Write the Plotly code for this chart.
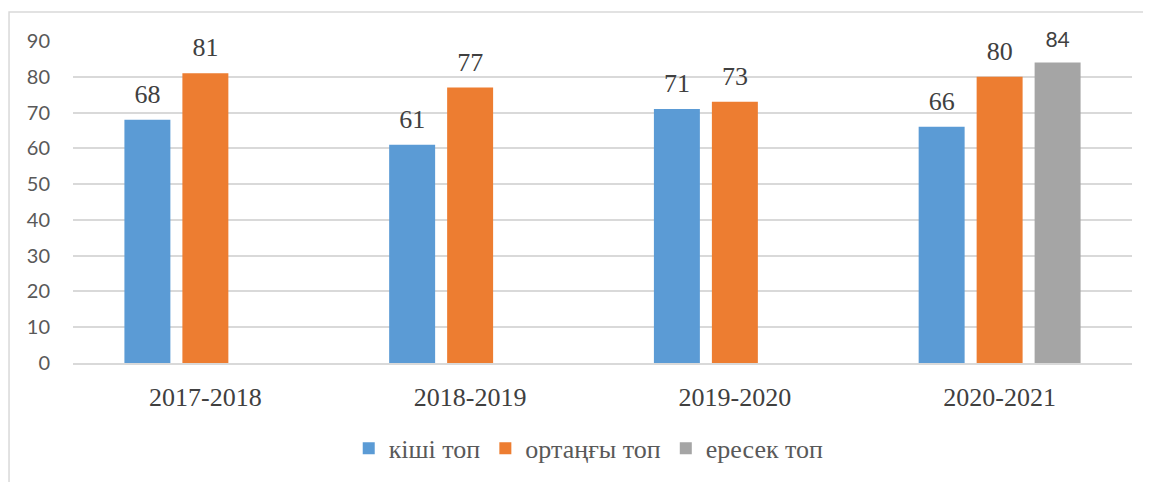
import plotly.graph_objects as go

years = ["2017-2018", "2018-2019", "2019-2020", "2020-2021"]
junior = [68, 61, 71, 66]
middle = [81, 77, 73, 80]
senior = [None, None, None, 84]
names = ["кіші топ", "ортаңғы топ", "ересек топ"]
colors = ["#5B9BD5", "#ED7D31", "#A5A5A5"]
y_ticks = list(range(0, 91, 10))

serif = "Liberation Serif, Times New Roman, serif"
sans = "Lato, Carlito, Liberation Sans, sans-serif"

fig = go.Figure()
series = [junior, middle, senior]
for name, vals, col in zip(names, series, colors):
    fig.add_trace(go.Bar(
        x=years, y=vals, name=name, marker=dict(color=col, line=dict(width=0)),
        offsetgroup=name, alignmentgroup="a",
    ))
# value labels as text-only points aligned with the bars
for name, vals in zip(names, series):
    is_senior = name == names[2]
    fig.add_trace(go.Scatter(
        x=years, y=vals, mode="markers+text", showlegend=False, hoverinfo="skip",
        offsetgroup=name, alignmentgroup="a",
        marker=dict(size=15, opacity=0),
        text=[("" if v is None else str(v)) for v in vals],
        textposition="top center", cliponaxis=False,
        textfont=dict(family=sans if is_senior else serif,
                      size=21 if is_senior else 26, color="#404040"),
    ))

fig.update_layout(
    width=1151, height=482,
    margin=dict(l=65, r=27, t=33, b=127),
    plot_bgcolor="white", paper_bgcolor="white",
    barmode="group", bargap=0.343, bargroupgap=0.207,
    scattermode="group", scattergap=0.343,
    showlegend=True,
    legend=dict(orientation="h", x=0.487, xanchor="center", y=-0.265, yanchor="middle",
                font=dict(family=serif, size=26, color="#595959"),
                itemwidth=30, traceorder="normal"),
    shapes=[dict(type="rect", xref="paper", yref="paper",
                 x0=-0.0604, x1=1.05, y0=-0.5, y1=1.0901,
                 line=dict(color="#D9D9D9", width=1.5), layer="below")],
)
fig.update_yaxes(range=[0, 90], tickvals=y_ticks, showgrid=True, gridcolor="#D9D9D9",
                 gridwidth=1.5, zeroline=False, showline=False,
                 tickfont=dict(family=sans, size=20, color="#595959"),
                 ticklabelstandoff=22)
fig.update_xaxes(showline=True, linecolor="#D9D9D9", linewidth=1.5,
                 tickfont=dict(family=serif, size=26, color="#404040"),
                 ticks="", ticklabelstandoff=10)
fig.write_html("out.html")
